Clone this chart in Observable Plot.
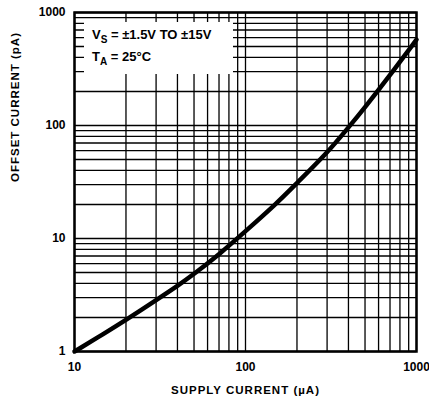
<!DOCTYPE html>
<html><head><meta charset="utf-8">
<script src="https://cdn.jsdelivr.net/npm/d3@7"></script>
<script src="https://cdn.jsdelivr.net/npm/@observablehq/plot@0.6"></script>
<style>body{margin:0;background:#fff}#chart svg{display:block}</style>
</head><body><div id="chart"></div>
<script>
// Data (log-log)
const supplyCurrent = [10, 15, 20, 30, 40, 50, 70, 100, 150, 200, 300, 400, 500, 700, 1000];
const offsetCurrent = [1, 1.45, 1.9, 2.85, 3.8, 4.85, 7.2, 11.6, 20, 31, 57, 96, 145, 279, 575];

const xTicks = [10, 100, 1000];
const yTicks = [1, 10, 100, 1000];
const xGrid = [10, 20, 30, 40, 50, 60, 70, 80, 90, 100, 200, 300, 400, 500, 600, 700, 800, 900, 1000];
const yGrid = [1, 2, 3, 4, 5, 6, 7, 8, 9, 10, 20, 30, 40, 50, 60, 70, 80, 90, 100, 200, 300, 400, 500, 600, 700, 800, 900, 1000];
const xLabel = "SUPPLY CURRENT (µA)";
const yLabel = "OFFSET CURRENT (pA)";
const legend1 = ["V", "S", " = ±1.5V TO ±15V"];
const legend2 = ["T", "A", " = 25°C"];

const font = "'Liberation Sans', Arial, Helvetica, sans-serif";

function legendBox(index, scales) {
  const left = scales.x(10), top = scales.y(1000);
  const g = d3.create("svg:g").attr("font-family", font).attr("font-weight", "bold").attr("fill", "black");
  g.append("rect")
    .attr("x", left + 10).attr("y", top + 10)
    .attr("width", 149).attr("height", 52).attr("fill", "white");
  [[legend1, 26.5], [legend2, 49]].forEach(([parts, dy]) => {
    const t = g.append("text").attr("x", left + 18).attr("y", top + dy).attr("font-size", 13).attr("text-anchor", "start");
    t.append("tspan").text(parts[0]);
    t.append("tspan").attr("font-size", 10).attr("dy", 4).text(parts[1]);
    t.append("tspan").attr("dy", -4).text(parts[2]);
  });
  return g.node();
}

const chart = Plot.plot({
  width: 429,
  height: 411,
  marginLeft: 74,
  marginRight: 13,
  marginTop: 12,
  marginBottom: 60,
  style: {fontFamily: font, background: "white", color: "black"},
  x: {type: "log", domain: [10, 1000], axis: null},
  y: {type: "log", domain: [1, 1000], axis: null},
  marks: [
    Plot.ruleX(xGrid, {x: d => d, stroke: "black", strokeWidth: 1.3}),
    Plot.ruleY(yGrid, {y: d => d, stroke: "black", strokeWidth: 1.3}),
    legendBox,
    Plot.line(supplyCurrent.map((s, i) => ({s, o: offsetCurrent[i]})), {
      x: "s", y: "o", stroke: "black", strokeWidth: 4.5, curve: "basis"
    }),
    Plot.frame({stroke: "black", strokeWidth: 2.5}),
    Plot.text(xTicks, {x: d => d, text: d => String(d), frameAnchor: "bottom", dy: 19,
      fontSize: 12, fontWeight: "bold", fill: "black"}),
    Plot.text(yTicks, {y: d => d, text: d => String(d), frameAnchor: "left", textAnchor: "end", dx: -9,
      fontSize: 12, fontWeight: "bold", fill: "black"}),
    Plot.text([xLabel], {text: d => d, frameAnchor: "bottom", dy: 42,
      fontSize: 11.5, fontWeight: "bold", fill: "black"}),
    Plot.text([yLabel], {text: d => d, frameAnchor: "left", dx: -59, rotate: -90,
      fontSize: 11.5, fontWeight: "bold", fill: "black"})
  ]
});

d3.select(chart).selectAll("text").filter(function() {
  const s = this.textContent; return s === xLabel || s === yLabel;
}).attr("letter-spacing", 1);

document.getElementById("chart").appendChild(chart);
</script>
</body></html>
